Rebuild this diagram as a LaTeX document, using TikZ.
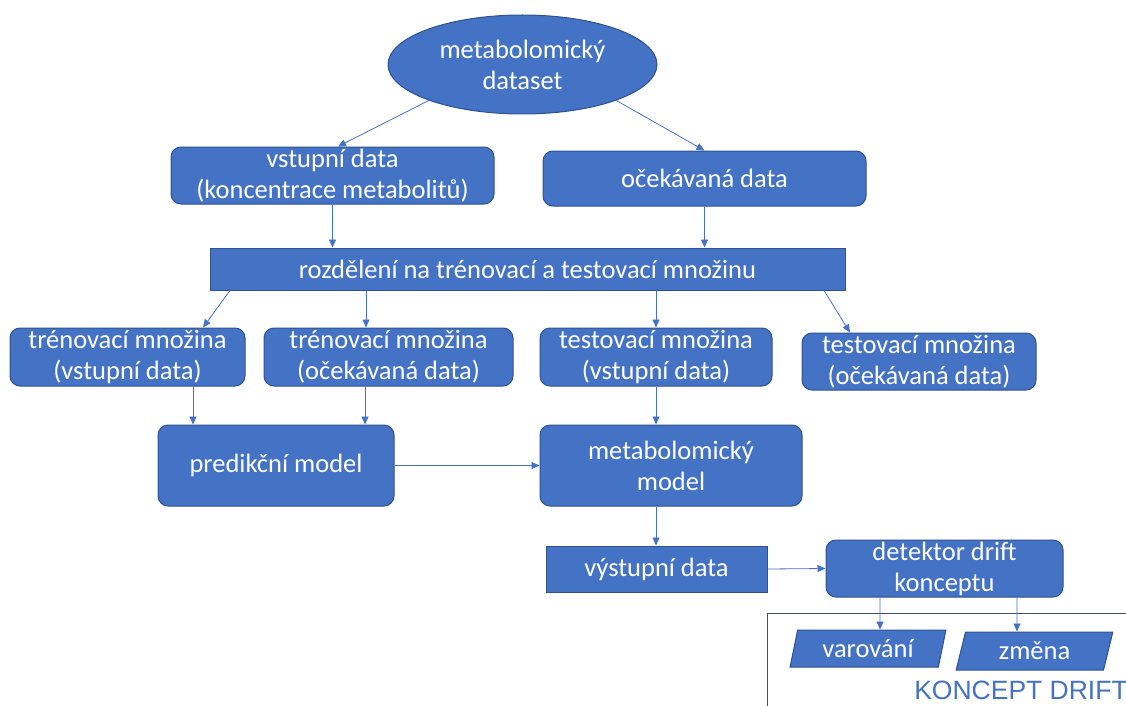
\documentclass[tikz,border=0pt]{standalone}
\usepackage{fontspec}
\setmainfont{Carlito}
\newfontfamily\arialfont{Liberation Sans}
\usetikzlibrary{shapes.geometric,arrows.meta}
\definecolor{blu}{HTML}{4472C4}
\definecolor{bord}{HTML}{2F528F}
\definecolor{framec}{HTML}{3F4F6E}
\tikzset{
  base/.style={fill=blu, draw=bord, line width=1pt, text=white, inner sep=0pt, align=center,
    font=\fontsize{26.5}{31}\selectfont},
  rbox/.style={base, rectangle, rounded corners=10pt},
  sbox/.style={base, rectangle},
  ell/.style={base, ellipse},
  para/.style={base, trapezium, trapezium left angle=75, trapezium right angle=105, trapezium stretches=true},
  arr/.style={draw=blu, line width=0.8pt, -{Triangle[length=8pt,width=7pt]}},
}
\begin{document}
\begin{tikzpicture}[x=1pt,y=-1pt]
\useasboundingbox (0,0) rectangle (1126,706);
\node[ell, minimum width=269, minimum height=99] (ds) at (522.5,64.5) {metabolomický\\dataset};
\node[rbox, minimum width=323, minimum height=57] (vd) at (332.5,175.5) {vstupní data\\(koncentrace metabolitů)};
\node[rbox, minimum width=323, minimum height=55] (od) at (704.5,178.5) {očekávaná data};
\node[sbox, minimum width=635, minimum height=42] (split) at (527.5,269) {rozdělení na trénovací a testovací množinu};
\node[rbox, minimum width=235, minimum height=58] (t1) at (127.5,357) {trénovací množina\\(vstupní data)};
\node[rbox, minimum width=249, minimum height=58] (t2) at (388.5,357) {trénovací množina\\(očekávaná data)};
\node[rbox, minimum width=232, minimum height=58] (t3) at (656,357) {testovací množina\\(vstupní data)};
\node[rbox, minimum width=234, minimum height=57] (t4) at (919,361.5) {testovací množina\\(očekávaná data)};
\node[rbox, minimum width=236, minimum height=81] (pm) at (276,465.5) {predikční model};
\node[rbox, minimum width=262, minimum height=81] (mm) at (671,465.5) {metabolomický\\model};
\node[sbox, minimum width=221, minimum height=46] (out) at (656.5,569) {výstupní data};
\node[rbox, minimum width=237, minimum height=57] (det) at (944.5,568.5) {detektor drift\\konceptu};
\node[para, minimum width=156, minimum height=37] (var) at (868,648.5) {varování};
\node[para, minimum width=157, minimum height=38] (zm) at (1034.5,651) {změna};
\draw[framec, line width=1pt] (767,706) -- (767,613) -- (1126,613);
\node[text=blu, font=\arialfont\fontsize{26.5}{30}\selectfont, inner sep=0pt] (kd) at (1021,690) {KONCEPT DRIFT};

\draw[arr] (ds.201) -- ([xshift=5.5]vd.north);
\draw[arr] (ds.339) -- (od.north);
\draw[arr] (vd.south) -- (vd.south |- split.north);
\draw[arr] (od.south) -- (od.south |- split.north);
\draw[arr] ([xshift=-297.5]split.south) -- ([xshift=75.5]t1.north);
\draw[arr] ([xshift=-161.5]split.south) -- ([xshift=-22.5]t2.north);
\draw[arr] (t3.north |- split.south) -- (t3.north);
\draw[arr] ([xshift=296.5]split.south) -- ([xshift=-69]t4.north);
\draw[arr] ([xshift=65.5]t1.south) -- ([xshift=-83]pm.north);
\draw[arr] ([xshift=-23.5]t2.south) -- ([xshift=89]pm.north);
\draw[arr] (t3.south) -- (t3.south |- mm.north);
\draw[arr] (pm.east) -- (mm.west);
\draw[arr] ([xshift=-15]mm.south) -- ([xshift=-0.5]out.north);
\draw[arr] (out.east) -- (det.west);
\draw[arr] ([xshift=-64.5]det.south) -- ([xshift=12]var.north);
\draw[arr] ([xshift=72.5]det.south) -- ([xshift=-17.5]zm.north);
\end{tikzpicture}
\end{document}
